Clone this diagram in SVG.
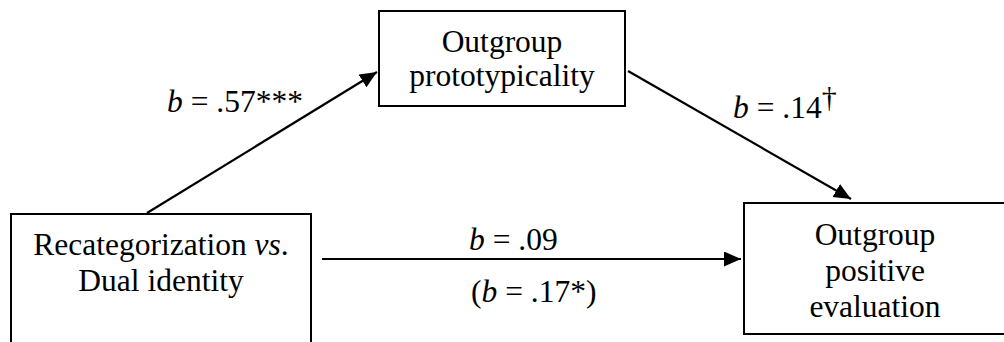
<svg xmlns="http://www.w3.org/2000/svg" width="1004" height="342" viewBox="0 0 1004 342">
<style>
.box{fill:#fff;stroke:#000;stroke-width:2}
.t{font-family:'Liberation Serif','Times New Roman',Tinos,'DejaVu Serif',serif;font-size:31.5px;fill:#000}
.c{text-anchor:middle}
.edge{stroke:#000;stroke-width:2.2;fill:none}
</style>
<defs>
<marker id="ah" markerUnits="userSpaceOnUse" markerWidth="18" markerHeight="16" refX="17" refY="7.5" orient="auto">
<path d="M0,0 L17,7.5 L0,15 z" fill="#000"/>
</marker>
</defs>
<rect width="1004" height="342" fill="#fff"/>
<g id="connectors">
<line class="edge" x1="147" y1="213" x2="377" y2="72" marker-end="url(#ah)"/>
<line class="edge" x1="628" y1="71" x2="851" y2="199" marker-end="url(#ah)"/>
<line class="edge" x1="322" y1="259" x2="741" y2="259" marker-end="url(#ah)"/>
<text class="t" font-family="Liberation Serif, serif" x="167" y="112"><tspan font-style="italic">b</tspan> = .57***</text>
<text class="t" font-family="Liberation Serif, serif" x="733" y="118"><tspan font-style="italic">b</tspan> = .14<tspan font-size="30" dy="-11">†</tspan></text>
<text class="t" font-family="Liberation Serif, serif" x="469" y="250"><tspan font-style="italic">b</tspan> = .09</text>
<text class="t" font-family="Liberation Serif, serif" x="471" y="302">(<tspan font-style="italic">b</tspan> = .17*)</text>
</g>
<g id="node-prototypicality">
<rect class="box" x="379" y="11" width="246" height="95"/>
<text class="t c" font-family="Liberation Serif, serif" x="502" y="52">Outgroup</text>
<text class="t c" font-family="Liberation Serif, serif" x="502" y="86">prototypicality</text>
</g>
<g id="node-recategorization">
<rect class="box" x="11" y="214" width="300" height="140"/>
<text class="t c" font-family="Liberation Serif, serif" x="161" y="255">Recategorization <tspan font-style="italic">vs</tspan>.</text>
<text class="t c" font-family="Liberation Serif, serif" x="161" y="291">Dual identity</text>
</g>
<g id="node-evaluation">
<rect class="box" x="744" y="203" width="270" height="131"/>
<text class="t c" font-family="Liberation Serif, serif" x="875" y="245">Outgroup</text>
<text class="t c" font-family="Liberation Serif, serif" x="875" y="281">positive</text>
<text class="t c" font-family="Liberation Serif, serif" x="875" y="317">evaluation</text>
</g>
</svg>
